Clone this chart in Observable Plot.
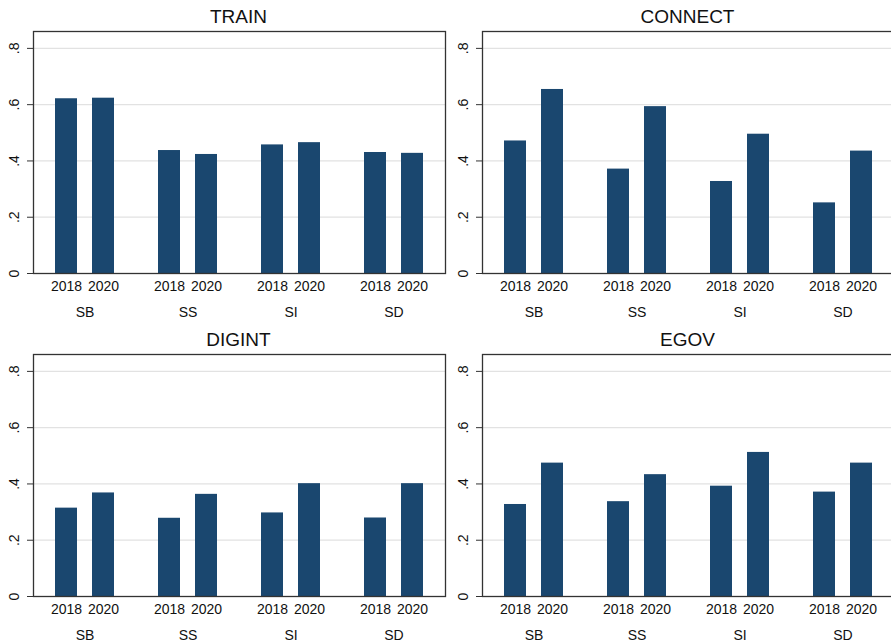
<!DOCTYPE html>
<html>
<head>
<meta charset="utf-8">
<script src="https://cdn.jsdelivr.net/npm/d3@7"></script>
<script src="https://cdn.jsdelivr.net/npm/@observablehq/plot@0.6"></script>
<style>
  html, body { margin: 0; padding: 0; background: #fff; }
  body { width: 891px; height: 643px; overflow: hidden; font-family: "Liberation Sans", Arial, Helvetica, sans-serif; }
  #grid { display: grid; grid-template-columns: 449px 449px; grid-template-rows: 323px 323px; width: 898px; }
  .panel { width: 449px; height: 323px; overflow: visible; }
  .title { box-sizing: border-box; height: 24px; padding: 8px 4px 0 32px; font-size: 19px; line-height: 18px; text-align: center; color: #111; }
  .panel svg { display: block; overflow: visible; }
</style>
</head>
<body>
<div id="grid"></div>
<script>
// Categories
const groups = ["SB", "SS", "SI", "SD"];
const years = ["2018", "2020"];
const panelTitles = ["TRAIN", "CONNECT", "DIGINT", "EGOV"];
const yTicks = [0, 0.2, 0.4, 0.6, 0.8];

// Series values (share), order follows `groups`
const train2018 = [0.621, 0.437, 0.457, 0.430];
const train2020 = [0.623, 0.423, 0.465, 0.427];
const connect2018 = [0.471, 0.371, 0.327, 0.251];
const connect2020 = [0.654, 0.593, 0.495, 0.435];
const digint2018 = [0.314, 0.278, 0.297, 0.279];
const digint2020 = [0.368, 0.363, 0.401, 0.401];
const egov2018 = [0.327, 0.337, 0.392, 0.371];
const egov2020 = [0.474, 0.433, 0.512, 0.474];

const series = {
  TRAIN: [train2018, train2020],
  CONNECT: [connect2018, connect2020],
  DIGINT: [digint2018, digint2020],
  EGOV: [egov2018, egov2020]
};

const fmt = d => d === 0 ? "0" : String(d).replace(/^0/, "");
const grid = document.getElementById("grid");

for (const t of panelTitles) {
  const rows = [];
  groups.forEach((g, i) => {
    years.forEach((yr, j) => rows.push({group: g, year: yr, value: series[t][j][i]}));
  });

  const panel = document.createElement("div");
  panel.className = "panel";
  const title = document.createElement("div");
  title.className = "title";
  title.textContent = t;
  panel.appendChild(title);

  const chart = Plot.plot({
    width: 449,
    height: 299,
    marginLeft: 32,
    marginRight: 4,
    marginTop: 7,
    marginBottom: 50,
    style: {fontFamily: "'Liberation Sans', Arial, Helvetica, sans-serif", fontSize: "14px", color: "#111", background: "#fff"},
    fx: {domain: groups, paddingInner: 0, paddingOuter: 0, label: null},
    x: {domain: years, paddingInner: 0.4, paddingOuter: 0.577, label: null},
    y: {domain: [0, 0.86], label: null},
    marks: [
      Plot.gridY(yTicks.filter(d => d > 0), {stroke: "#e2e2e2", strokeOpacity: 1, strokeWidth: 1.3}),
      Plot.barY(rows, {fx: "group", x: "year", y: "value", fill: "#1a476f"}),
      Plot.axisY(yTicks, {tickFormat: fmt, tickSize: 6, tickPadding: 9, tickRotate: -90, fontSize: 14, stroke: "#333", label: null}),
      Plot.axisX({tickSize: 0, tickPadding: 8, fontSize: 14, label: null}),
      Plot.axisFx({anchor: "bottom", tickSize: 0, tickPadding: 34, fontSize: 14, label: null}),
      Plot.frame({stroke: "#333", strokeWidth: 1.3, facet: "super"})
    ]
  });
  panel.appendChild(chart);
  grid.appendChild(panel);
}
</script>
</body>
</html>
